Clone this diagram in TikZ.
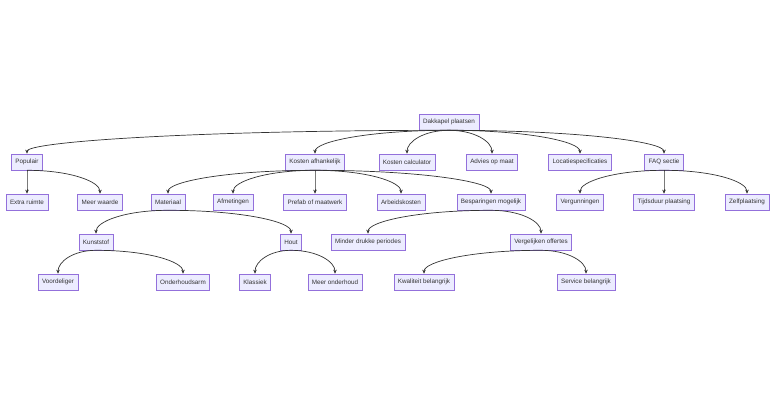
\documentclass[tikz,border=0pt]{standalone}
\usepackage{fontspec}
\setmainfont{Liberation Sans}
\usetikzlibrary{calc,arrows.meta}
\definecolor{nfill}{HTML}{ECECFF}
\definecolor{nbord}{HTML}{9370DB}
\definecolor{ntext}{HTML}{333333}
\tikzset{
 box/.style={draw=nbord,fill=nfill,text=ntext,font=\fontsize{6.3}{7}\selectfont,minimum height=16pt,inner xsep=4pt,inner ysep=0pt,line width=0.6pt},
 edge/.style={draw=ntext,line width=0.7pt,-{Stealth[length=4pt,width=3.5pt]}}
}
\newcommand{\cn}[2]{\draw[edge] (#1.south) .. controls ($(#1.south)!0.6!(#2.north|-#1.south)$) and ($(#2.north)+(0,-12)$) .. (#2.north);}
\begin{document}
\begin{tikzpicture}[x=1pt,y=-1pt]
\useasboundingbox (0,0) rectangle (784,406);
\node[box] (dak) at (449,122) {Dakkapel plaatsen};
\node[box] (pop) at (27,162) {Populair};
\node[box] (kaf) at (315,162) {Kosten afhankelijk};
\node[box] (kca) at (407,162) {Kosten calculator};
\node[box] (adv) at (492,162) {Advies op maat};
\node[box] (loc) at (580,162) {Locatiespecificaties};
\node[box] (faq) at (664,162) {FAQ sectie};
\node[box] (ext) at (27,202) {Extra ruimte};
\node[box] (mwa) at (100,202) {Meer waarde};
\node[box] (mat) at (168,202) {Materiaal};
\node[box] (afm) at (233,202) {Afmetingen};
\node[box] (pre) at (315,202) {Prefab of maatwerk};
\node[box] (arb) at (401,202) {Arbeidskosten};
\node[box] (bes) at (491,202) {Besparingen mogelijk};
\node[box] (ver) at (580,202) {Vergunningen};
\node[box] (tij) at (664,202) {Tijdsduur plaatsing};
\node[box] (zel) at (747,202) {Zelfplaatsing};
\node[box] (kun) at (96,242) {Kunststof};
\node[box] (hou) at (291,242) {Hout};
\node[box] (min) at (368,242) {Minder drukke periodes};
\node[box] (vgl) at (541,242) {Vergelijken offertes};
\node[box] (voo) at (58,282) {Voordeliger};
\node[box] (ond) at (183,282) {Onderhoudsarm};
\node[box] (kla) at (255,282) {Klassiek};
\node[box] (meo) at (335,282) {Meer onderhoud};
\node[box] (kwa) at (424,282) {Kwaliteit belangrijk};
\node[box] (ser) at (586,282) {Service belangrijk};
\cn{dak}{pop}\cn{dak}{kaf}\cn{dak}{kca}\cn{dak}{adv}\cn{dak}{loc}\cn{dak}{faq}
\cn{pop}{ext}\cn{pop}{mwa}
\cn{kaf}{mat}\cn{kaf}{afm}\cn{kaf}{pre}\cn{kaf}{arb}\cn{kaf}{bes}
\cn{faq}{ver}\cn{faq}{tij}\cn{faq}{zel}
\cn{mat}{kun}\cn{mat}{hou}
\cn{kun}{voo}\cn{kun}{ond}
\cn{hou}{kla}\cn{hou}{meo}
\cn{bes}{min}\cn{bes}{vgl}
\cn{vgl}{kwa}\cn{vgl}{ser}
\end{tikzpicture}
\end{document}
